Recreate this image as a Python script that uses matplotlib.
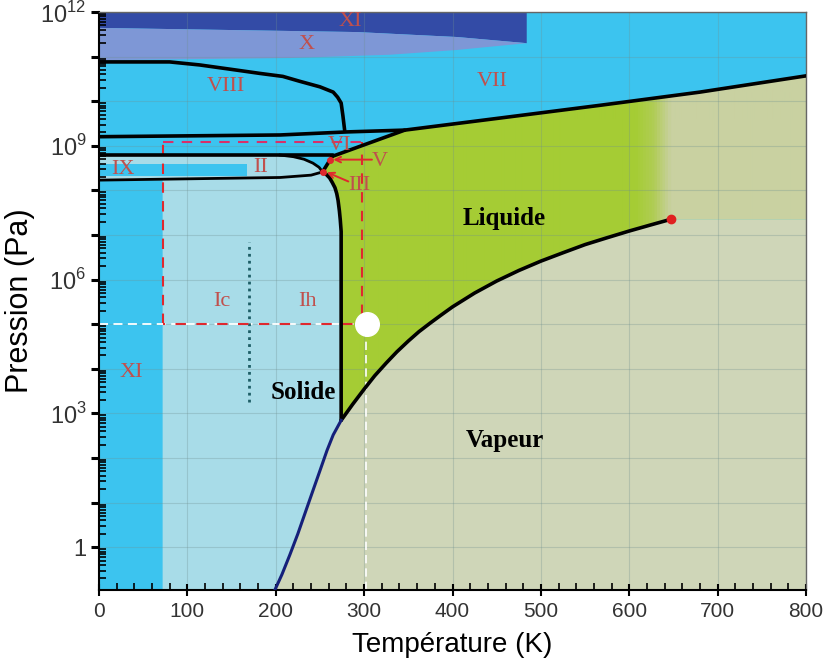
import numpy as np
import matplotlib.pyplot as plt
from matplotlib.patches import Polygon
from matplotlib.colors import LinearSegmentedColormap
from matplotlib.ticker import LogLocator, MultipleLocator, NullFormatter

# ---- boundary curves (T in K, P in Pa) ----
sub_T = [199, 207, 216, 225, 235, 243, 250, 258, 265, 274]
sub_P = [0.11, 0.245, 0.68, 2.0, 7.4, 21, 52, 148, 330, 700]

vap_T = [274, 287, 300, 312, 325, 337, 350, 362, 375, 387, 400, 425, 450, 475,
         500, 525, 550, 575, 600, 625, 647]
vap_P = [7e2, 1.6e3, 3.5e3, 7.0e3, 1.35e4, 2.4e4, 4.2e4, 6.8e4, 1.07e5, 1.6e5, 2.45e5,
         5.0e5, 9.3e5, 1.6e6, 2.6e6, 4.0e6, 6.1e6, 8.7e6, 1.23e7, 1.7e7, 2.25e7]

melt_T = [253, 257, 261, 264, 267, 269, 270.5, 272, 273, 274, 274]
melt_P = [2.6e8, 2.3e8, 1.9e8, 1.5e8, 1.15e8, 8.5e7, 6e7, 3.5e7, 2.2e7, 1.2e7, 7e2]

# III/V - liquid then VI - liquid
melt2_T = [253, 257, 264]
melt2_P = [2.6e8, 3.5e8, 5.8e8]
vi_liq_T = [264, 346]
vi_liq_P = [5.8e8, 2.25e9]

# VI/VII boundary then VII melting curve
vii_T = [0, 205, 281, 346, 454, 567, 680, 800]
vii_P = [1.6e9, 1.75e9, 2.05e9, 2.25e9, 4.2e9, 8.1e9, 1.6e10, 3.7e10]

viii_T = [0, 80, 114, 152, 182, 208, 227, 250, 265, 270, 274, 276, 278]
viii_P = [7.6e10, 7.6e10, 6.5e10, 5.1e10, 4.2e10, 3.6e10, 2.8e10, 2.1e10, 1.6e10,
          1.23e10, 9.1e9, 4.7e9, 2.2e9]

lineC_T = [0, 265]
lineC_P = [6.2e8, 6.2e8]
ii_up_T = [205, 220, 232, 242, 249, 253]
ii_up_P = [6.2e8, 5.7e8, 5.0e8, 4.1e8, 3.3e8, 2.6e8]
ii_low_T = [0, 205, 240, 253]
ii_low_P = [1.7e8, 1.95e8, 2.2e8, 2.6e8]

# top bands (ice X / XI)
xi_T = [0, 292, 405, 484]
xi_P = [4.4e11, 3.55e11, 2.75e11, 2.0e11]
x_low_T = [484, 405, 329, 216, 0]
x_low_P = [2.0e11, 1.41e11, 1.1e11, 9.3e10, 8.3e10]

ix_box_T = [0, 168]
ix_box_P = [2.1e8, 3.9e8]

T_xi = 72          # ice XI limit
T_room = 300
P_atm = 1.01e5
P_top_dash = 1.23e9
T_ic_ih = 170
P_ic_ih = [1.8e3, 6.9e6]
crit = (647, 2.25e7)

ymin, ymax = 0.11, 1e12

cyan = '#3cc4ef'
light = '#a8dce8'
green = '#a5cc34'
khaki = '#c9d1a1'
vapour = '#cfd6b8'
dark_blue = '#334ba6'
lavender = '#7e97d6'
red = '#e0282e'
num_red = '#c0504d'

plt.rcParams['font.family'] = ['Liberation Sans', 'DejaVu Sans']
plt.rcParams['mathtext.fontset'] = 'custom'
plt.rcParams['mathtext.rm'] = 'Liberation Sans'

fig = plt.figure(figsize=(8.26, 6.71), dpi=100)
ax = fig.add_axes([99 / 826, 1 - 590 / 671, 707 / 826, 578 / 671])
ax.set_yscale('log')
ax.set_xlim(0, 800)
ax.set_ylim(ymin, ymax)
ax.set_facecolor(cyan)


def poly(xs, ys, color, z=1):
    p = Polygon(np.column_stack([xs, ys]), closed=True, facecolor=color,
                edgecolor='none', zorder=z)
    ax.add_patch(p)
    return p


# ice Ih / Ic / II area
lb_T = [T_xi, T_xi, 0, 0] + ii_up_T + melt_T[1:] + sub_T[::-1][1:]
lb_P = [ymin, ii_low_P[0], ii_low_P[0], lineC_P[0]] + ii_up_P + melt_P[1:] + sub_P[::-1][1:]
poly(lb_T, lb_P, light)
poly([ix_box_T[0], ix_box_T[1], ix_box_T[1], ix_box_T[0]],
     [ix_box_P[0], ix_box_P[0], ix_box_P[1], ix_box_P[1]], cyan)

# fluid region (liquid -> supercritical gradient)
fl_T = vap_T + [800, 800] + vii_T[::-1][:-3] + vi_liq_T[::-1][1:] + melt2_T[::-1][1:] + melt_T[1:]
fl_P = vap_P + [crit[1], vii_P[-1]] + vii_P[::-1][:-3] + vi_liq_P[::-1][1:] + melt2_P[::-1][1:] + melt_P[1:]
fluid = poly(fl_T, fl_P, green)
cmap = LinearSegmentedColormap.from_list(
    'fl', [(0, green), (608 / 800, green), (628 / 800, '#b0cc55'),
           (648 / 800, khaki), (1, khaki)])
im = ax.imshow(np.linspace(0, 1, 800)[None, :], cmap=cmap, aspect='auto',
               extent=[0, 800, ymin, ymax], zorder=1.1)
im.set_clip_path(fluid)

# vapour
poly(sub_T + vap_T[1:] + [800, 800], sub_P + vap_P[1:] + [crit[1], ymin], vapour)

# ice X / XI bands
poly([0] + xi_T + [484, 0], [ymax] + xi_P + [ymax, ymax], dark_blue)
poly(xi_T + x_low_T[1:], xi_P + x_low_P[1:], lavender)

ax.grid(True, which='major', color='#6f8f8f', alpha=0.3, lw=0.8, zorder=1.5)

# phase boundaries
kw = dict(color='black', lw=2.6, zorder=3, solid_capstyle='round', solid_joinstyle='round')
ax.plot(viii_T, viii_P, **kw)
ax.plot(vii_T, vii_P, **kw)
ax.plot(lineC_T, lineC_P, **kw)
ax.plot(vi_liq_T, vi_liq_P, **kw)
ax.plot(melt2_T, melt2_P, **kw)
ax.plot(ii_up_T, ii_up_P, lw=2, color='black', zorder=3)
ax.plot(ii_low_T, ii_low_P, lw=2, color='black', zorder=3)
ax.plot(melt_T, melt_P, **kw)
ax.plot(vap_T, vap_P, **kw)
ax.plot(sub_T, sub_P, color='#15207a', lw=2.2, zorder=3, solid_joinstyle='round')
ax.plot(*crit, 'o', color='#e02020', ms=6, zorder=4)

# guide lines
ax.plot([T_xi, T_room], [P_top_dash, P_top_dash], color='#d8306a', lw=1.5, ls=(0, (5, 4)), zorder=2.5)
ax.plot([T_xi, T_xi], [P_atm, P_top_dash], color=red, lw=1.5, ls=(0, (5, 4)), zorder=2.5)
ax.plot([T_room - 2, T_room - 2], [P_atm * 1.6, P_top_dash], color=red, lw=1.5, ls=(0, (5, 4)), zorder=2.5)
ax.plot([0, T_room], [P_atm, P_atm], color='white', lw=1.3, ls=(0, (5, 3)), zorder=2.5)
ax.plot([T_xi, T_room - 8], [P_atm, P_atm], color=red, lw=1.5, ls=(4, (5, 5)), zorder=2.6)
ax.plot([T_room + 2, T_room + 2], [ymin, P_atm], color='white', lw=1.2, ls=(0, (5, 3)), zorder=2.5)
ax.plot([T_ic_ih, T_ic_ih], P_ic_ih, color='#1d5e66', lw=2, ls=(0, (1, 1.5)), zorder=2.5)
ax.plot(T_room + 3, P_atm, 'o', color='white', ms=17, zorder=4)

# triple point pointers
ax.annotate('', xy=(262, 4.9e8), xytext=(312, 4.9e8),
            arrowprops=dict(arrowstyle='->', color=red, lw=1.4), zorder=4)
ax.annotate('', xy=(255, 2.7e8), xytext=(285, 1.5e8),
            arrowprops=dict(arrowstyle='->', color=red, lw=1.4), zorder=4)
ax.plot([261, 253], [4.8e8, 2.6e8], 'o', color=red, ms=4, zorder=4)

# phase names
ser = dict(family=['Liberation Serif', 'DejaVu Serif'], ha='center', va='center', zorder=5)
for txt, t, p in [('XI', 284, 6.0e11), ('X', 235, 1.9e11), ('VIII', 143, 2.1e10),
                  ('VII', 445, 2.7e10), ('VI', 272, 1.0e9), ('V', 318, 4.4e8),
                  ('III', 294, 1.3e8), ('IX', 27, 2.9e8), ('II', 183, 3.2e8),
                  ('Ic', 139, 3.2e5), ('Ih', 236, 3.2e5), ('XI', 36, 8.1e3)]:
    ax.text(t, p, txt, color=num_red, fontsize=16, **ser)
for txt, t, p in [('Liquide', 459, 2.4e7), ('Solide', 231, 2.9e3), ('Vapeur', 459, 2.5e2)]:
    ax.text(t, p, txt, color='black', fontsize=18, fontweight='bold', **ser)

# axes / ticks
ax.xaxis.set_major_locator(MultipleLocator(100))
ax.xaxis.set_minor_locator(MultipleLocator(20))
ax.yaxis.set_major_locator(LogLocator(base=10, numticks=20))
ax.yaxis.set_minor_locator(LogLocator(base=10, subs=np.arange(2, 10), numticks=20))
ax.yaxis.set_minor_formatter(NullFormatter())
ylab_pos = [1, 1e3, 1e6, 1e9, 1e12]
ax.yaxis.set_major_formatter(plt.FuncFormatter(
    lambda v, _: ('1' if v == 1 else r'$10^{%d}$' % round(np.log10(v))) if any(abs(v / q - 1) < 1e-6 for q in ylab_pos) else ''))
ax.tick_params(axis='x', which='major', direction='inout', length=9, width=1.5, labelsize=15,
               labelcolor='#333333', pad=4)
ax.tick_params(axis='x', which='minor', direction='in', length=5, width=1.2)
ax.tick_params(axis='y', which='major', direction='out', length=6, width=2.2, labelsize=17,
               labelcolor='#333333', pad=3)
ax.tick_params(axis='y', which='minor', direction='in', length=5, width=1.2)
for s in ['top', 'right']:
    ax.spines[s].set_color('#666666')
    ax.spines[s].set_linewidth(1)
ax.spines['left'].set_linewidth(1.5)
ax.spines['bottom'].set_linewidth(1.5)

ax.set_xlabel('Température (K)', fontsize=20, labelpad=8)
ax.set_ylabel('Pression (Pa)', fontsize=22, labelpad=4)

fig.savefig('out.png', dpi=100)
